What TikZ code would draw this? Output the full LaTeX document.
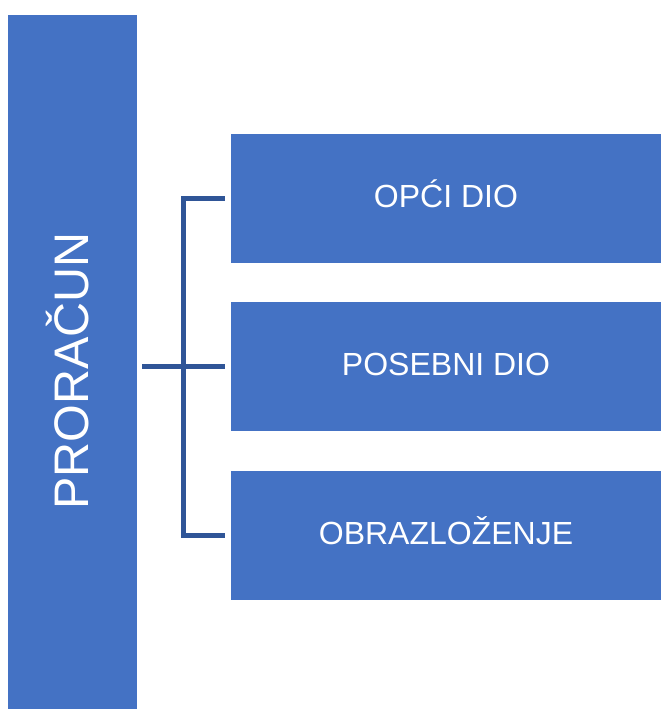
\documentclass[tikz,border=0pt]{standalone}
\usepackage{fontspec}
\setmainfont{Liberation Sans}
\usetikzlibrary{positioning}
\definecolor{boxblue}{HTML}{4472C4}
\definecolor{linkblue}{HTML}{2F5597}
\tikzset{
  part/.style={fill=boxblue, draw=none, text=white, minimum width=430pt, minimum height=129pt,
    inner sep=0pt, text height=23pt, text depth=5pt, font=\fontsize{32}{38}\selectfont},
  conn/.style={draw=linkblue, line width=5pt, line join=miter}
}
\begin{document}
\begin{tikzpicture}[x=1pt, y=1pt]
    \useasboundingbox (0,0) rectangle (661,709);

    % Main box
    \node[fill=boxblue, minimum width=129pt, minimum height=694pt, inner sep=0pt] (budget) at (72.5,347) {};
    \node[rotate=90, text=white, font=\fontsize{48.5}{58}\selectfont] (budgettxt) at ([xshift=-5pt,yshift=-9pt]budget.center) {PRORAČUN};

    % Parts
    \node[part] (opci) at (446,510.5) {OPĆI DIO};
    \node[part, below=39pt of opci] (posebni) {POSEBNI DIO};
    \node[part, below=39pt of posebni] (obraz) {OBRAZLOŽENJE};

    % Connectors
    \coordinate (trunk) at (183.5,342.5);
    \draw[conn] ([xshift=5pt]budget.east |- posebni.west) -- ([xshift=-6pt]posebni.west);
    \draw[conn] ([xshift=-6pt]opci.west) -| (trunk |- obraz.west) -- ([xshift=-6pt]obraz.west);
\end{tikzpicture}
\end{document}
